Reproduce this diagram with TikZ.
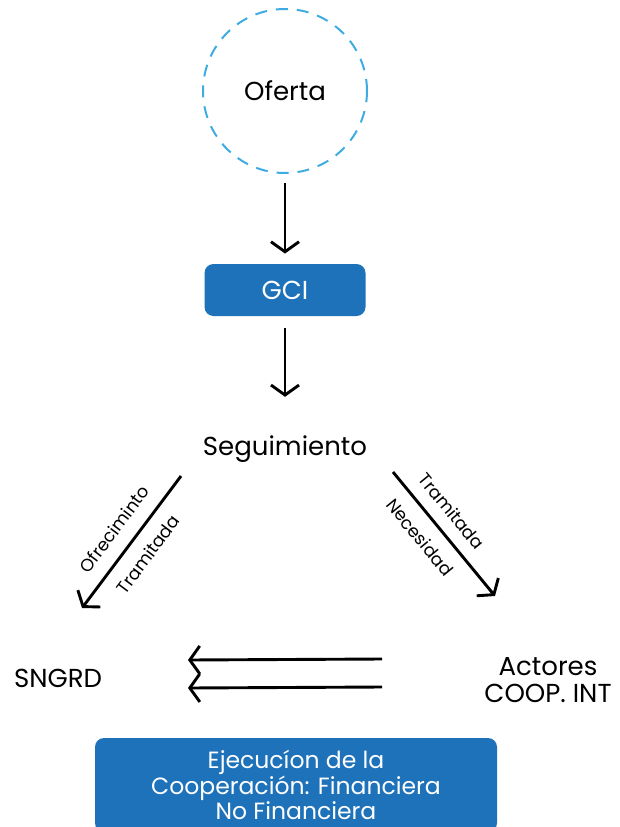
\documentclass[tikz,border=0pt]{standalone}
\usepackage{fontspec}
\setmainfont{Poppins}
\usetikzlibrary{arrows.meta,positioning,shapes}
\definecolor{boxblue}{RGB}{30,114,186}
\definecolor{dashblue}{RGB}{62,172,226}

\begin{document}
\begin{tikzpicture}[x=1pt,y=-1pt,->,>={Straight Barb[length=10pt,width=28pt]},line width=2.9pt,font=\fontsize{26}{27}\selectfont]
\tikzstyle{every node}=[text=black,align=center]
\tikzstyle{ring}=[circle,draw=dashblue,line width=2pt,dash pattern=on 12pt off 9pt,minimum size=164pt]
\tikzstyle{box}=[fill=boxblue,draw=none,rounded corners=9pt,text=white]
\tikzstyle{lbl}=[font=\fontsize{17.5}{18}\selectfont,sloped]

\useasboundingbox (0,0) rectangle (619,827);

\node[ring]         (Of)  at (285,91)   {Oferta};
\node[box,minimum width=161pt,minimum height=52pt] (GCI) [below of=Of,node distance=199pt] {GCI};
\node               (Seg) [below of=GCI,node distance=159pt] {Seguimiento};
\node               (SNG) at (58,678)   {SNGRD};
\node               (Act) at (548,680)  {Actores\\COOP. INT};
\node[box,minimum width=402pt,minimum height=94pt,font=\fontsize{23.5}{23}\selectfont] (Ejec) at (296,785) {Ejecucíon de la\\Cooperación: Financiera\\No Financiera};

% puntos libres de las flechas
\coordinate (l1) at (82,608);
\coordinate (l2) at (181,476);
\coordinate (r1) at (393,472);
\coordinate (r2) at (495,596);
\coordinate (a1) at (382,659);
\coordinate (a2) at (188,660);
\coordinate (b1) at (382,687);
\coordinate (b2) at (188,688);

\path
(Of) edge[shorten <=9pt,shorten >=9pt] (GCI)
(GCI) edge[shorten <=11pt,shorten >=34pt] (Seg)
(l2) edge (l1)
(r1) edge node[lbl,above=9pt,pos=0.42] {Tramitada} node[lbl,below=9pt,pos=0.42] {Necesidad} (r2)
(a1) edge (a2)
(b1) edge (b2)
;
\path (l1) -- node[lbl,above=10pt] {Ofreciminto} node[lbl,below=9pt] {Tramitada} (l2);

\end{tikzpicture}
\end{document}
